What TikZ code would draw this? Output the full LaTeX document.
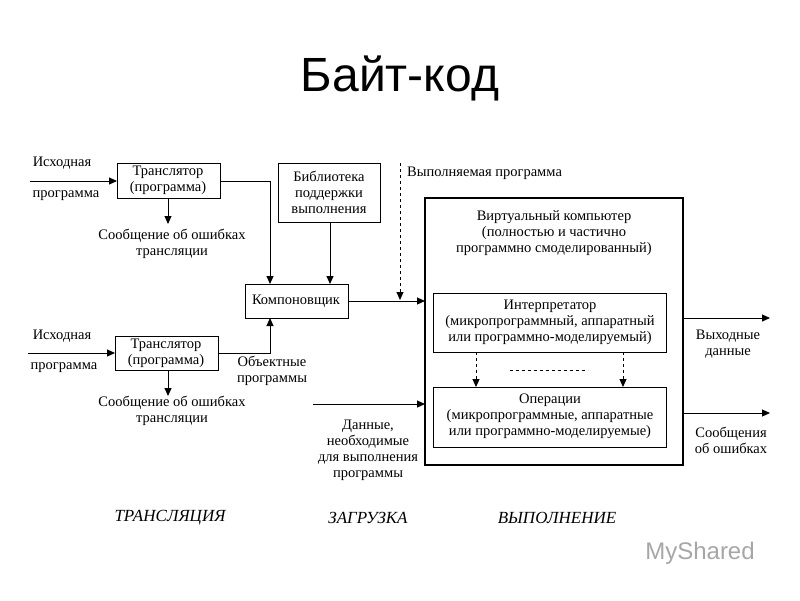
\documentclass[tikz,border=0pt]{standalone}
\usepackage{fontspec}
\setmainfont{Liberation Serif}
\newfontfamily\titlefont{Liberation Sans}
\usetikzlibrary{arrows.meta}
\begin{document}
\begin{tikzpicture}[x=1pt,y=-1pt,
  every node/.style={font=\fontsize{14.5}{16}\selectfont, align=center, inner sep=0pt},
  boxn/.style={draw, line width=0.8pt},
  arr/.style={-{Triangle[length=8pt,width=7pt]}, line width=1pt},
  darr/.style={-{Triangle[length=8pt,width=7pt]}, line width=1pt, dashed},
  lbl/.style={font=\fontsize{17}{18}\selectfont\itshape}]
\useasboundingbox (0,0) rectangle (800,600);
\node (title) at (400,78) {\titlefont\fontsize{48}{52}\selectfont Байт-код};
% translators
\draw[boxn] (117,163) rectangle (220,198);
\node (t1) at (168,180) {Транслятор\\(программа)};
\draw[boxn] (115,336) rectangle (218,370);
\node (t2) at (166,353) {Транслятор\\(программа)};
\coordinate (t1w) at (117,181); \coordinate (t1e) at (220,181);
\coordinate (t1s) at (168,198); \coordinate (t2s) at (168,370);
\coordinate (t2w) at (115,353); \coordinate (t2e) at (218,353);
\coordinate (in1) at (30,181); \coordinate (in2) at (28,353);
\draw[arr] (in1) -- (t1w);
\draw[arr] (in2) -- (t2w);
\node (s1a) at (62,163) {Исходная};
\node (s1b) at (66,196) {программа};
\node (s2a) at (62,336) {Исходная};
\node (s2b) at (64,368) {программа};
\node (e1) at (172,244) {Сообщение об ошибках\\трансляции};
\node (e2) at (172,411) {Сообщение об ошибках\\трансляции};
\draw[arr] (t1s) -- (168,224);
\draw[arr] (t2s) -- (168,396);
% library
\draw[boxn] (278,163) rectangle (380,222);
\node (lib) at (329,192) {Библиотека\\поддержки\\выполнения};
\draw[boxn] (245,284) rectangle (348,318);
\node (kom) at (296,301) {Компоновщик};
\draw[arr] (t1e) -| (270,284);
\draw[arr] (t2e) -| (270,318);
\draw[arr] (330,222) -- (330,284);
\node (obj) at (272,371) {Объектные\\программы};
% virtual computer
\draw[boxn, line width=1.2pt] (425,198) rectangle (683,465);
\node (vc) at (554,233) {Виртуальный компьютер\\(полностью и частично\\программно смоделированный)};
\draw[boxn] (433,293) rectangle (666,352);
\node (int) at (550,322) {Интерпретатор\\(микропрограммный, аппаратный\\или программно-моделируемый)};
\draw[boxn] (433,387) rectangle (666,447);
\node (ops) at (550,416) {Операции\\(микропрограммные, аппаратные\\или программно-моделируемые)};
\draw[arr] (348,301) -- (425,301);
\draw[darr] (400,163) -- (400,300);
\node[anchor=west] (exe) at (407,173) {Выполняемая программа};
\draw[arr] (313,404) -- (425,404);
\node (dat) at (368,450) {Данные,\\необходимые\\для выполнения\\программы};
\draw[darr] (476,352) -- (476,387);
\draw[darr] (623,352) -- (623,387);
\draw[dashed, line width=1pt] (510,370) -- (588,370);
\draw[arr] (683,318) -- (770,318);
\draw[arr] (683,413) -- (770,413);
\node (out) at (728,344) {Выходные\\данные};
\node (err) at (731,440) {Сообщения\\об ошибках};
\node[lbl] (l1) at (170,518) {ТРАНСЛЯЦИЯ};
\node[lbl] (l2) at (368,518) {ЗАГРУЗКА};
\node[lbl] (l3) at (557,518) {ВЫПОЛНЕНИЕ};
\node[text=gray!70] (ms) at (700,553) {\titlefont\fontsize{24}{26}\selectfont MyShared};
\end{tikzpicture}
\end{document}
